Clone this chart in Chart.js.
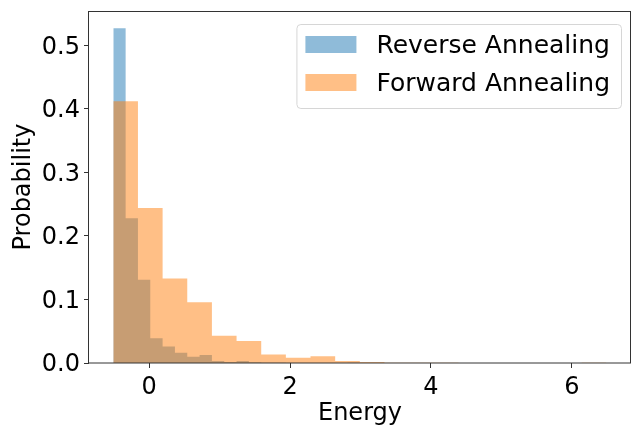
<!DOCTYPE html>
<html><head><meta charset="utf-8">
<script src="https://cdn.jsdelivr.net/npm/chart.js@4.4.1/dist/chart.umd.min.js"></script>
<style>html,body{margin:0;padding:0;background:#fff}#wrap{width:636px;height:427px;position:relative}</style>
</head><body><div id="wrap"><canvas id="c"></canvas></div>
<script>
const seriesNames = ['Reverse Annealing', 'Forward Annealing'];
const reverseBinEdges = [-0.51, -0.335, -0.16, 0.015, 0.19, 0.365, 0.54, 0.715, 0.89, 1.065, 1.24, 1.415, 1.59, 1.765, 1.94, 2.115, 2.29, 2.465, 2.64, 2.815, 2.99];
const reverseProb = [0.527, 0.228, 0.131, 0.039, 0.026, 0.016, 0.010, 0.0126, 0.003, 0.0015, 0.003, 0.001, 0.0005, 0.0005, 0, 0, 0, 0, 0, 0.0005];
const forwardBinEdges = [-0.51, -0.16, 0.19, 0.54, 0.89, 1.24, 1.59, 1.94, 2.29, 2.64, 2.99, 3.34, 3.69, 4.04, 4.39, 4.74, 5.09, 5.44, 5.79, 6.14, 6.49];
const forwardProb = [0.412, 0.244, 0.133, 0.0957, 0.043, 0.0347, 0.0135, 0.0084, 0.0105, 0.003, 0.0016, 0.0005, 0.0003, 0.0002, 0, 0, 0, 0, 0, 0.0003];
const xTicks = [0, 2, 4, 6];
const yTicks = [0.0, 0.1, 0.2, 0.3, 0.4, 0.5];
const xTitle = 'Energy';
const yTitle = 'Probability';

const FONT = 'DejaVu Sans';
const blueFill = 'rgba(31,119,180,0.5)';
const orangeFill = 'rgba(255,127,14,0.5)';

function histPoints(edges, probs) {
  const pts = probs.map((p, i) => ({ x: edges[i], y: p }));
  pts.push({ x: edges[edges.length - 1], y: probs[probs.length - 1] });
  return pts;
}

const framePlugin = {
  id: 'frame',
  afterDraw(chart) {
    const { ctx, chartArea: a } = chart;
    ctx.save();
    ctx.strokeStyle = '#333';
    ctx.lineWidth = 1;
    ctx.strokeRect(Math.round(a.left) - 0.5, Math.round(a.top) + 0.5, Math.round(a.right - a.left), Math.round(a.bottom - a.top) - 0.5);
    // legend
    ctx.font = '25px "' + FONT + '"';
    const labels = chart.data.datasets.map(d => d.label);
    const colors = chart.data.datasets.map(d => d.backgroundColor);
    const maxW = Math.max(...labels.map(l => ctx.measureText(l).width));
    const right = a.right - 10;
    const top = a.top + 13;
    const textX = right - 11 - maxW;
    const patchX = textX - 20 - 51;
    const left = patchX - 9;
    const h = 84;
    ctx.beginPath();
    ctx.roundRect(left + 0.5, top + 0.5, right - left, h, 4);
    ctx.fillStyle = 'rgba(255,255,255,0.8)';
    ctx.fill();
    ctx.strokeStyle = '#d6d6d6';
    ctx.stroke();
    labels.forEach((l, i) => {
      const base = top + 29 + i * 38;
      ctx.fillStyle = colors[i];
      ctx.fillRect(patchX, base - 17, 51, 17);
      ctx.fillStyle = '#000';
      ctx.textBaseline = 'alphabetic';
      ctx.textAlign = 'left';
      ctx.fillText(l, textX, base);
    });
    ctx.restore();
  }
};

new Chart(document.getElementById('c'), {
  type: 'line',
  data: {
    datasets: [
      { label: seriesNames[0], data: histPoints(reverseBinEdges, reverseProb), stepped: 'before', fill: 'origin',
        backgroundColor: blueFill, borderColor: 'rgba(0,0,0,0)', borderWidth: 0, pointRadius: 0, order: 1 },
      { label: seriesNames[1], data: histPoints(forwardBinEdges, forwardProb), stepped: 'before', fill: 'origin',
        backgroundColor: orangeFill, borderColor: 'rgba(0,0,0,0)', borderWidth: 0, pointRadius: 0, order: 0 }
    ]
  },
  options: {
    responsive: true,
    maintainAspectRatio: false,
    animation: false,
    layout: { padding: { top: 11, right: 5, left: 0, bottom: 0 } },
    plugins: { legend: { display: false }, tooltip: { enabled: false } },
    scales: {
      x: {
        type: 'linear', min: -0.855, max: 6.84,
        afterBuildTicks(s) { s.ticks = xTicks.map(v => ({ value: v })); },
        afterFit(s) { s.height = 64; s.paddingLeft = 0; s.paddingRight = 0; },
        border: { display: false },
        grid: { drawOnChartArea: false, drawTicks: true, tickLength: 5, tickColor: '#333', lineWidth: 1 },
        ticks: { color: '#000', padding: 5, font: { family: FONT, size: 24 }, maxRotation: 0, callback: v => String(v) },
        title: { display: true, text: xTitle, color: '#000', font: { family: FONT, size: 24 }, padding: { top: 0, bottom: -1 } }
      },
      y: {
        type: 'linear', min: 0, max: 0.554,
        afterBuildTicks(s) { s.ticks = yTicks.map(v => ({ value: v })); },
        afterFit(s) { s.width = 89; s.paddingTop = 0; s.paddingBottom = 0; },
        border: { display: false },
        grid: { drawOnChartArea: false, drawTicks: true, tickLength: 5, tickColor: '#333', lineWidth: 1 },
        ticks: { color: '#000', padding: 4, labelOffset: 2, font: { family: FONT, size: 24 }, callback: v => v.toFixed(1) },
        title: { display: true, text: yTitle, color: '#000', font: { family: FONT, size: 24 }, padding: { top: 9, bottom: 0 } }
      }
    }
  },
  plugins: [framePlugin]
});
</script>
</body></html>
